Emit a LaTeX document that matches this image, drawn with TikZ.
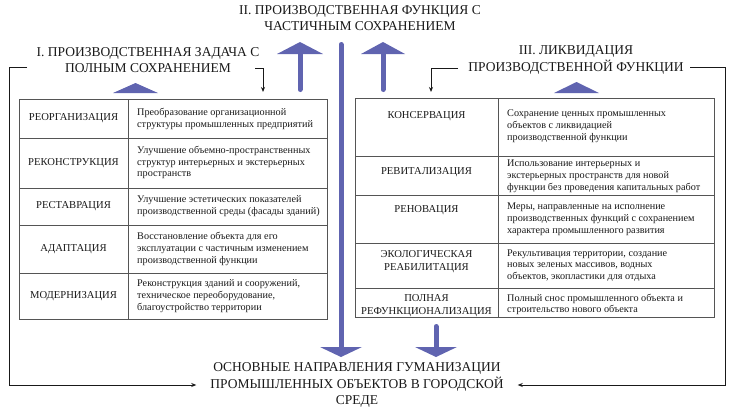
\documentclass[tikz,border=0pt]{standalone}
\usepackage{fontspec}
\setmainfont{Liberation Serif}
\usetikzlibrary{arrows.meta}
\definecolor{ab}{RGB}{96,100,176}
\definecolor{tx}{RGB}{25,25,25}
\definecolor{gl}{RGB}{85,85,85}
\begin{document}
\begin{tikzpicture}[x=1pt,y=-1pt,
  head/.style={font=\fontsize{13.5}{16.5}\selectfont, align=center, text=tx, inner sep=0pt},
  term/.style={font=\fontsize{10.6}{13}\selectfont, align=center, text=tx, inner sep=0pt},
  desc/.style={font=\fontsize{10.2}{11.8}\selectfont, align=left, text=tx, inner sep=0pt, anchor=west},
  gridline/.style={draw=gl, line width=0.9pt},
  frame/.style={draw=tx, line width=0.9pt},
  tip/.style={-{Stealth[length=5pt,width=4pt]}},
  shaft/.style={draw=ab, line width=5pt, line cap=round},
  tri/.style={fill=ab}]
\useasboundingbox (0,0) rectangle (736,410);

% headings
\node[head] (hII) at (360,18) {II. ПРОИЗВОДСТВЕННАЯ ФУНКЦИЯ С\\ЧАСТИЧНЫМ СОХРАНЕНИЕМ};
\node[head] (hI) at (148,60) {I. ПРОИЗВОДСТВЕННАЯ ЗАДАЧА С\\ПОЛНЫМ СОХРАНЕНИЕМ};
\node[head] (hIII) at (576,60) {III. ЛИКВИДАЦИЯ\\ПРОИЗВОДСТВЕННОЙ ФУНКЦИИ};
\node[head, inner xsep=14pt] (bottom) at (357,385) {ОСНОВНЫЕ НАПРАВЛЕНИЯ ГУМАНИЗАЦИИ\\ПРОМЫШЛЕННЫХ ОБЪЕКТОВ В ГОРОДСКОЙ\\СРЕДЕ};

% outer frame connectors
\coordinate (lfs) at (27,67);
\coordinate (rfs) at (690,67);
\draw[frame,tip] (lfs) -- (9,67) |- (bottom.west);
\draw[frame,tip] (rfs) -- (725,67) |- (bottom.east);

% small heading arrows
\coordinate (la) at (255,68); \coordinate (lt) at (263,92);
\coordinate (ra) at (458,68); \coordinate (rt) at (431,92);
\draw[frame,tip] (la) -| (lt);
\draw[frame,tip] (ra) -| (rt);

% blue arrows
\draw[shaft] (300,89.5) -- (300,52);
\fill[tri] (277,54) -- (300,42) -- (323,54) -- cycle;
\draw[shaft] (383,89.5) -- (383,52);
\fill[tri] (361,54) -- (383,42) -- (405,54) -- cycle;
\draw[shaft] (341,44.5) -- (341,348);
\fill[tri] (320,347) -- (362,347) -- (341,357) -- cycle;
\draw[shaft] (436,326.5) -- (436,348);
\fill[tri] (415,347) -- (457,347) -- (436,357) -- cycle;
\fill[tri] (113,93) -- (135.5,83) -- (158,93) -- cycle;
\fill[tri] (554,93) -- (576.5,82) -- (599,93) -- cycle;

% left table
\draw[gridline] (19,99) rectangle (327,319);
\draw[gridline] (128,99) -- (128,319);
\foreach \yy in {138,188,225,273} \draw[gridline] (19,\yy) -- (327,\yy);
\node[term] (L1) at (73.5,118.5) {РЕОРГАНИЗАЦИЯ};
\node[term] (L2) at (73.5,163) {РЕКОНСТРУКЦИЯ};
\node[term] (L3) at (73.5,206.5) {РЕСТАВРАЦИЯ};
\node[term] (L4) at (73.5,249) {АДАПТАЦИЯ};
\node[term] (L5) at (73.5,296) {МОДЕРНИЗАЦИЯ};
\node[desc] (D1) at (137,119) {Преобразование организационной\\структуры промышленных предприятий};
\node[desc] (D2) at (137,162.5) {Улучшение объемно-пространственных\\структур интерьерных и экстерьерных\\пространств};
\node[desc] (D3) at (137,206) {Улучшение эстетических показателей\\производственной среды (фасады зданий)};
\node[desc] (D4) at (137,249) {Восстановление объекта для его\\эксплуатации с частичным изменением\\производственной функции};
\node[desc] (D5) at (137,296) {Реконструкция зданий и сооружений,\\техническое переоборудование,\\благоустройство территории};

% right table
\draw[gridline] (355,98) rectangle (714,317);
\draw[gridline] (498,98) -- (498,317);
\foreach \yy in {156,195,243,288} \draw[gridline] (355,\yy) -- (714,\yy);
\node[term, anchor=north] (R1) at (426.5,111.5) {КОНСЕРВАЦИЯ};
\node[term, anchor=north] (R2) at (426.5,167.5) {РЕВИТАЛИЗАЦИЯ};
\node[term, anchor=north] (R3) at (426.5,205.5) {РЕНОВАЦИЯ};
\node[term, anchor=north] (R4) at (426.5,250) {ЭКОЛОГИЧЕСКАЯ\\РЕАБИЛИТАЦИЯ};
\node[term, anchor=north] (R5) at (426.5,294.5) {ПОЛНАЯ\\РЕФУНКЦИОНАЛИЗАЦИЯ};
\node[desc] (E1) at (507,126.5) {Сохранение ценных промышленных\\объектов с ликвидацией\\производственной функции};
\node[desc] (E2) at (507,176) {Использование интерьерных и\\экстерьерных пространств для новой\\функции без проведения капитальных работ};
\node[desc] (E3) at (507,219.5) {Меры, направленные на исполнение\\производственных функций с сохранением\\характера промышленного развития};
\node[desc] (E4) at (507,265.5) {Рекультивация территории, создание\\новых зеленых массивов, водных\\объектов, экопластики для отдыха};
\node[desc] (E5) at (507,304.5) {Полный снос промышленного объекта и\\строительство нового объекта};
\end{tikzpicture}
\end{document}
